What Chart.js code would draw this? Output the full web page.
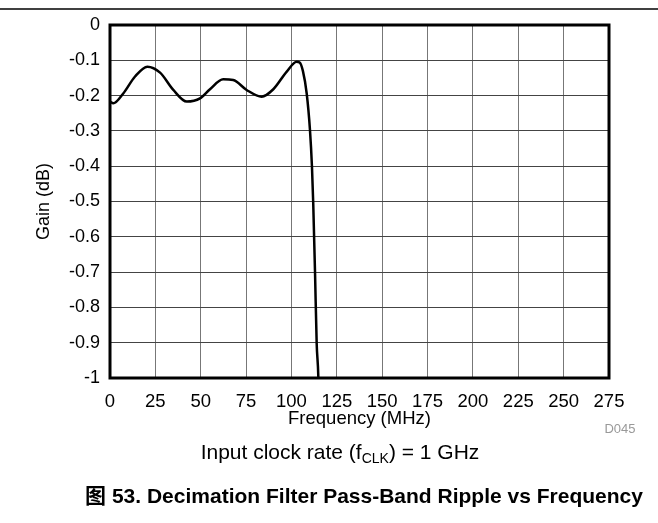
<!DOCTYPE html>
<html lang="zh">
<head>
  <meta charset="UTF-8">
  <title>Decimation Filter Pass-Band Ripple vs Frequency</title>
  <script src="https://cdn.jsdelivr.net/npm/chart.js"></script>
  <style>
    body { margin: 0; background: #fff; }
  </style>
</head>
<body>
  <div style="width: 658px; height: 523px;">
    <canvas id="rippleChart" width="658" height="523"></canvas>
  </div>

  <script>
    // values
    const freqMHz = [0, 1.8, 7.3, 13.8, 20.6, 27.6, 34.9, 42.3, 49.6, 55.1, 62.4, 67.9, 75.3, 83.6, 90,
                     97.4, 102.9, 104.5, 106.3, 108.4, 110.2, 111.3, 112.0, 113.0, 113.9, 114.8, 115.0];
    const gainDb = [-0.217, -0.222, -0.194, -0.146, -0.118, -0.135, -0.184, -0.217, -0.208, -0.182, -0.154, -0.156, -0.184, -0.203, -0.182,
                    -0.132, -0.104, -0.106, -0.130, -0.194, -0.297, -0.401, -0.505, -0.703, -0.902, -0.996, -1.05];
    const xTicks = [0, 25, 50, 75, 100, 125, 150, 175, 200, 225, 250, 275];
    const yTicks = [0, -0.1, -0.2, -0.3, -0.4, -0.5, -0.6, -0.7, -0.8, -0.9, -1];
    const yTickLabels = ['0', '-0.1', '-0.2', '-0.3', '-0.4', '-0.5', '-0.6', '-0.7', '-0.8', '-0.9', '-1'];

    const FONT = "'Liberation Sans', Arial, 'Noto Sans CJK SC', sans-serif";

    const points = freqMHz.map((f, i) => ({ x: f, y: gainDb[i] }));

    const extras = {
      id: 'extras',
      afterDraw(chart) {
        const ctx = chart.ctx;
        const a = chart.chartArea;
        ctx.save();
        // thick frame
        ctx.strokeStyle = '#000';
        ctx.lineWidth = 3;
        ctx.strokeRect(a.left, a.top, a.right - a.left, a.bottom - a.top);
        // rule at the top of the page
        ctx.lineWidth = 1.5;
        ctx.beginPath();
        ctx.moveTo(0, 9);
        ctx.lineTo(658, 9);
        ctx.stroke();

        // condition note with subscript
        ctx.fillStyle = '#000';
        ctx.textBaseline = 'middle';
        const big = '21px ' + FONT, small = '14px ' + FONT;
        const p1 = 'Input clock rate (f', p2 = 'CLK', p3 = ') = 1 GHz';
        ctx.font = big; const w1 = ctx.measureText(p1).width, w3 = ctx.measureText(p3).width;
        ctx.font = small; const w2 = ctx.measureText(p2).width;
        let x = 340 - (w1 + w2 + w3) / 2;
        const y = 453;
        ctx.textAlign = 'left';
        ctx.font = big; ctx.fillText(p1, x, y); x += w1;
        ctx.font = small; ctx.fillText(p2, x, y + 6); x += w2;
        ctx.font = big; ctx.fillText(p3, x, y);

        // figure id
        ctx.fillStyle = '#999';
        ctx.font = '13px ' + FONT;
        ctx.textAlign = 'center';
        ctx.fillText('D045', 620, 429);

        // caption
        ctx.fillStyle = '#000';
        ctx.font = 'bold 21px ' + FONT;
        ctx.fillText('图 53. Decimation Filter Pass-Band Ripple vs Frequency', 364, 497);
        ctx.restore();
      }
    };

    const config = {
      type: 'line',
      data: {
        datasets: [{
          label: 'Gain',
          data: points,
          borderColor: '#000',
          borderWidth: 2.5,
          pointRadius: 0,
          fill: false,
          cubicInterpolationMode: 'monotone'
        }]
      },
      options: {
        responsive: false,
        animation: false,
        layout: { padding: { left: 0, right: 49, top: 25, bottom: 0 } },
        plugins: {
          legend: { display: false },
          tooltip: { enabled: false }
        },
        scales: {
          x: {
            type: 'linear',
            min: xTicks[0],
            max: xTicks[xTicks.length - 1],
            afterBuildTicks: s => { s.ticks = xTicks.map(v => ({ value: v })); },
            afterFit: s => { s.height = 145; },
            grid: { color: '#777', lineWidth: 1, drawTicks: false },
            border: { display: false },
            ticks: { color: '#000', padding: 13, maxRotation: 0, font: { family: FONT, size: 18.5 }, callback: v => String(v) },
            title: { display: true, text: 'Frequency (MHz)', color: '#000', font: { family: FONT, size: 18.5 }, padding: { top: 0, bottom: 93 } }
          },
          y: {
            type: 'linear',
            min: -1,
            max: 0,
            afterBuildTicks: s => { s.ticks = yTicks.map(v => ({ value: v })); },
            afterFit: s => { s.width = 110; },
            grid: { color: '#444', lineWidth: 1, drawTicks: false },
            border: { display: false },
            ticks: {
              color: '#000', padding: 10, font: { family: FONT, size: 18 },
              callback: v => {
                const i = yTicks.findIndex(t => Math.abs(t - v) < 1e-9);
                return i >= 0 ? yTickLabels[i] : '';
              }
            },
            title: { display: true, text: 'Gain (dB)', color: '#000', font: { family: FONT, size: 18 }, padding: { top: 33, bottom: 0 } }
          }
        }
      },
      plugins: [extras]
    };

    new Chart(document.getElementById('rippleChart'), config);
  </script>
</body>
</html>
